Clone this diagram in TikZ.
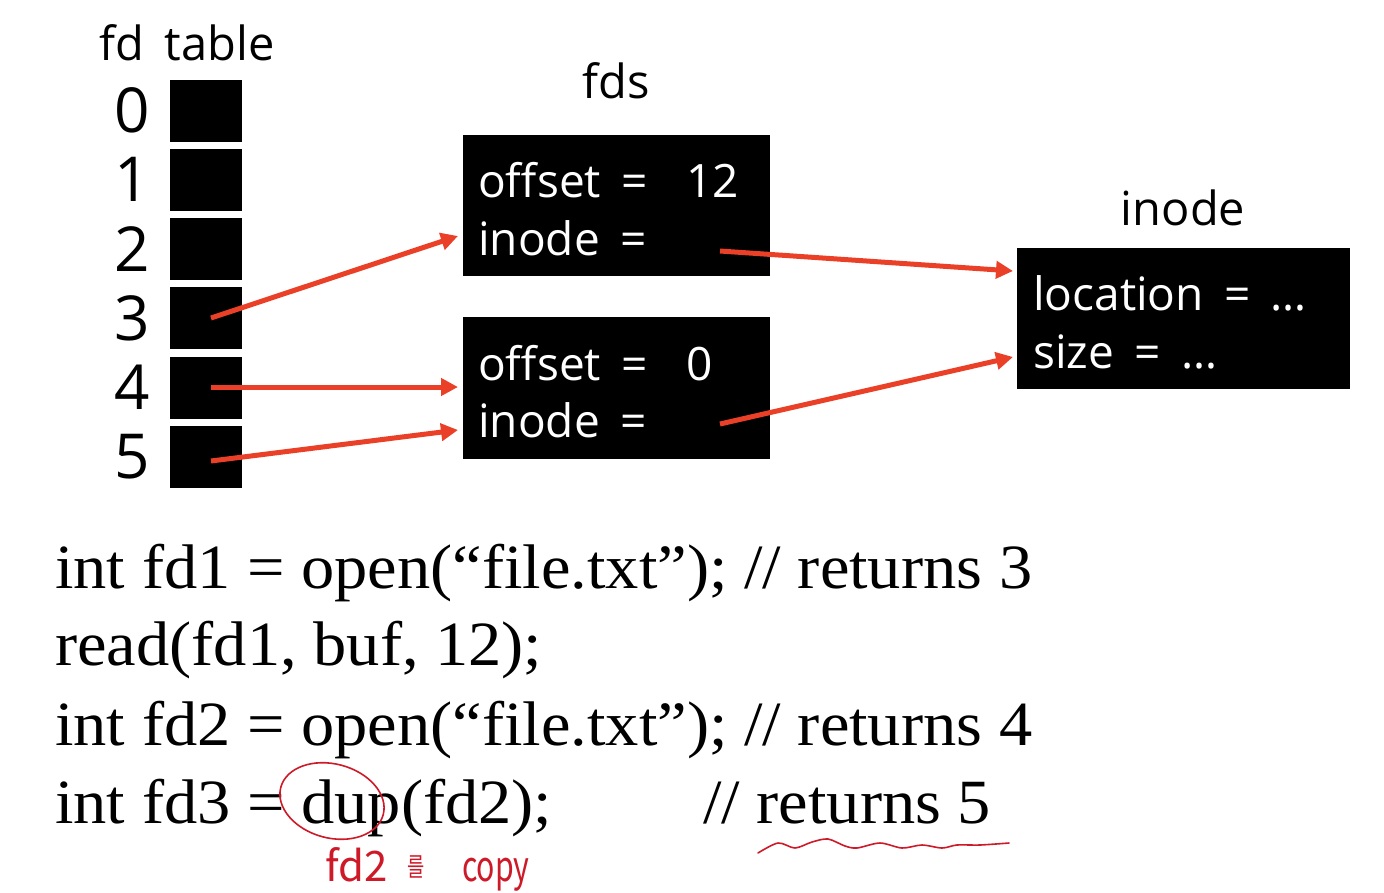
\documentclass[tikz,border=0pt]{standalone}
\usepackage{fontspec}
\setmainfont{Liberation Serif}[FakeStretch=1.055]
\newfontfamily\sansf{Open Sans}[WordSpace=1.7]
\newfontfamily\krf{Noto Sans CJK KR}[FakeStretch=0.72]
\newfontfamily\krw{Noto Sans CJK KR}
\usetikzlibrary{arrows.meta,calc}
\definecolor{ptrred}{RGB}{234,64,40}
\definecolor{handred}{RGB}{205,25,40}
\begin{document}
\begin{tikzpicture}[x=1pt,y=-1pt,
  cell/.style={fill=black,minimum width=72pt,minimum height=62pt,inner sep=0pt,draw=none},
  box/.style={fill=black,inner sep=0pt,draw=none},
  lab/.style={font=\sansf\fontsize{47}{56}\selectfont,inner sep=0pt,anchor=base},
  digit/.style={font=\sansf\fontsize{62}{70}\selectfont,inner sep=0pt,anchor=center},
  wlab/.style={font=\sansf\fontsize{46}{56}\selectfont,inner sep=0pt,anchor=base west,text=white},
  ptr/.style={draw=ptrred,line width=5pt,-{Triangle[length=17pt,width=17pt]}},
  code/.style={font=\fontsize{63}{70}\selectfont,inner sep=0pt,anchor=base west},
  hand/.style={draw=handred,line width=1.6pt,line cap=round,line join=round},
  handtxt/.style={font=\krf\fontsize{42}{44}\selectfont,inner sep=0pt,anchor=base west,text=handred}]
\useasboundingbox (0,0) rectangle (1384,892);
% fd table
\node[lab] (fdt) at (187,60) {fd table};
\foreach \i/\y in {0/110.5,1/179.5,2/249,3/318,4/387.5,5/457}{
  \node[cell] (s\i) at (206,\y) {};
  \node[digit] (d\i) at (132,\y) {\i};
}
% fds
\node[lab] (fdslab) at (616,98) {fds};
\node[box,minimum width=307pt,minimum height=141pt] (f1) at (616.5,205.5) {};
\node[box,minimum width=307pt,minimum height=142pt] (f2) at (616.5,388) {};
\node[wlab] (f1a) at (478,197) {offset =};
\node[wlab] (f1v) at (686,197) {12};
\node[wlab] (f1b) at (478,255) {inode =};
\node[wlab] (f2a) at (478,380) {offset =};
\node[wlab] (f2v) at (686,380) {0};
\node[wlab] (f2b) at (478,437) {inode =};
% inode
\node[lab] (inlab) at (1183,225) {inode};
\node[box,minimum width=333pt,minimum height=141pt] (ino) at (1183.5,318.5) {};
\node[wlab] (ina) at (1033,310) {location = \dots};
\node[wlab] (inb) at (1033,368) {size = \dots};
% pointer coordinates
\coordinate (c3) at (211,318);
\coordinate (c4) at (211,387);
\coordinate (c5) at (211,461);
\coordinate (t1) at (458,236);
\coordinate (t2) at (458,387);
\coordinate (t3) at (458,430);
\coordinate (q1) at (720,251);
\coordinate (q2) at (720,424);
\coordinate (u1) at (1013,271);
\coordinate (u2) at (1013,357);
\draw[ptr] (c3) -- (t1);
\draw[ptr] (c4) -- (t2);
\draw[ptr] (c5) -- (t3);
\draw[ptr] (q1) -- (u1);
\draw[ptr] (q2) -- (u2);
% code
\node[code] (l1) at (55,588) {int fd1 = open(“file.txt”); // returns 3};
\node[code] (l2) at (55,665) {read(fd1, buf, 12);};
\node[code] (l3) at (55,745) {int fd2 = open(“file.txt”); // returns 4};
\node[code] (l4) at (55,823) {int fd3 = dup(fd2);};
\node[code] (l4b) at (703,823) {// returns 5};
% handwriting
\draw[hand] (332,801) ellipse [x radius=53, y radius=37, rotate=-15];
\node[handtxt,font=\krw\fontsize{42}{44}\selectfont] (h1) at (325,881) {fd2};
\node[handtxt,font=\krf\fontsize{26}{28}\selectfont] (h2) at (407,876) {를};
\node[handtxt] (h3) at (462,881) {copy};
\draw[hand] plot[smooth] coordinates {(758,853) (778,843) (795,848) (812,842) (828,839) (845,846) (857,848) (880,843) (902,848) (922,845) (942,848) (957,845) (980,845) (1009,843)};
\end{tikzpicture}
\end{document}
